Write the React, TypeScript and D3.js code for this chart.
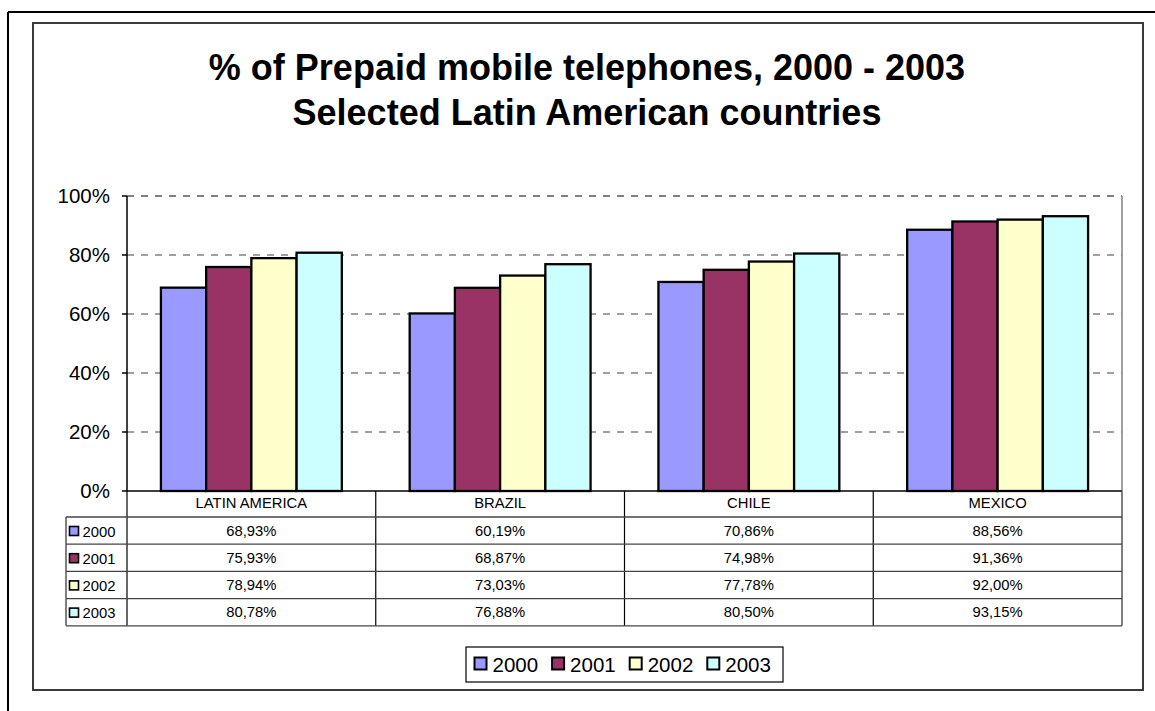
import React from "react";
import * as d3 from "d3";

const categories = ["LATIN AMERICA", "BRAZIL", "CHILE", "MEXICO"];
const years = ["2000", "2001", "2002", "2003"];
const v2000 = [68.93, 60.19, 70.86, 88.56];
const v2001 = [75.93, 68.87, 74.98, 91.36];
const v2002 = [78.94, 73.03, 77.78, 92.0];
const v2003 = [80.78, 76.88, 80.5, 93.15];
const yTicks = [0, 20, 40, 60, 80, 100];
const colors = ["#9999FF", "#993366", "#FFFFCC", "#CCFFFF"];
const titleLines = ["% of Prepaid mobile telephones, 2000 - 2003", "Selected Latin American countries"];

const series = [v2000, v2001, v2002, v2003];

const FONT = "'Liberation Sans', Arial, Helvetica, sans-serif";

const locale = d3.formatLocale({ decimal: ",", thousands: ".", grouping: [3], currency: ["", ""] });
const fmtVal = locale.format(".2f");

export default function App() {
  const W = 1155;
  const H = 711;
  const plotL = 127;
  const plotR = 1122;
  const plotT = 196;
  const plotB = 491;
  const tableL = 66;
  const headerB = 517;
  const rowH = 27.2;

  const x0 = d3.scaleBand<string>().domain(categories).range([plotL, plotR]).paddingInner(0).paddingOuter(0);
  const x1 = d3.scaleBand<string>().domain(years).range([0, x0.bandwidth()]).paddingInner(0).paddingOuter(0.75);
  const y = d3.scaleLinear().domain([0, 100]).range([plotB, plotT]);

  const legendX = 466;
  const legendY = 647;
  const legendStep = 77.6;

  return (
    <svg width={W} height={H} style={{ position: "absolute", left: 0, top: 0 }} fontFamily={FONT}>
      <rect x={0} y={0} width={W} height={H} fill="#fff" />
      {/* outer frame: top & left */}
      <line x1={8} y1={12} x2={W} y2={12} stroke="#000" strokeWidth={2} />
      <line x1={8} y1={12} x2={8} y2={H} stroke="#000" strokeWidth={2} />
      {/* inner chart border */}
      <rect x={33} y={23} width={1110} height={667} fill="#fff" stroke="#3a3a3a" strokeWidth={2} />

      {/* title */}
      {titleLines.map((t, i) => (
        <text key={i} x={587} y={80 + i * 45} textAnchor="middle" fontSize={36} fontWeight="bold" fill="#000">
          {t}
        </text>
      ))}

      {/* gridlines */}
      {yTicks.filter((t) => t > 0).map((t) => (
        <line key={t} x1={plotL} x2={plotR} y1={y(t)} y2={y(t)} stroke={t === 100 ? "#555" : "#808080"} strokeWidth={1.5} strokeDasharray="7,7" />
      ))}
      {/* plot right border */}
      <line x1={plotR} x2={plotR} y1={plotT} y2={plotB} stroke="#808080" strokeWidth={1.5} />

      {/* bars */}
      {categories.map((c, ci) => (
        <g key={c}>
          {years.map((yr, si) => {
            const v = series[si][ci];
            const bx = (x0(c) as number) + (x1(yr) as number);
            return (
              <rect key={yr} x={bx} y={y(v)} width={x1.bandwidth()} height={plotB - y(v)} fill={colors[si]} stroke="#000" strokeWidth={2.3} />
            );
          })}
        </g>
      ))}

      {/* y axis */}
      <line x1={plotL} x2={plotL} y1={plotT} y2={plotB} stroke="#000" strokeWidth={1.5} />
      {yTicks.map((t) => (
        <g key={t}>
          <line x1={122} x2={plotL} y1={y(t)} y2={y(t)} stroke="#000" strokeWidth={1.5} />
          <text x={110} y={y(t) + 7.3} textAnchor="end" fontSize={20.5} fill="#000">
            {t}%
          </text>
        </g>
      ))}
      {/* x axis line */}
      <line x1={plotL} x2={plotR} y1={plotB} y2={plotB} stroke="#000" strokeWidth={1.5} />

      {/* data table */}
      {categories.map((c) => (
        <line key={"hv" + c} x1={x0(c) as number} x2={x0(c) as number} y1={plotB} y2={headerB + rowH * 4} stroke="#000" strokeWidth={1.2} />
      ))}
      <line x1={plotR} x2={plotR} y1={plotB} y2={headerB + rowH * 4} stroke="#555" strokeWidth={1.5} />
      <line x1={tableL} x2={tableL} y1={headerB} y2={headerB + rowH * 4} stroke="#555" strokeWidth={1.5} />
      {[0, 1, 2, 3, 4].map((r) => (
        <line key={"hr" + r} x1={tableL} x2={plotR} y1={headerB + r * rowH} y2={headerB + r * rowH} stroke="#444" strokeWidth={1.3} />
      ))}
      {categories.map((c) => (
        <text key={"ht" + c} x={(x0(c) as number) + x0.bandwidth() / 2} y={508} textAnchor="middle" fontSize={14.8} fill="#000">
          {c}
        </text>
      ))}
      {years.map((yr, si) => (
        <g key={"row" + yr}>
          <rect x={69.5} y={headerB + si * rowH + 9.5} width={9} height={9} fill={colors[si]} stroke="#000" strokeWidth={1.6} />
          <text x={82.5} y={headerB + si * rowH + 19.5} fontSize={14.8} fill="#000">
            {yr}
          </text>
          {categories.map((c, ci) => (
            <text key={c} x={(x0(c) as number) + x0.bandwidth() / 2} y={headerB + si * rowH + 18.5} textAnchor="middle" fontSize={14.8} fill="#000">
              {fmtVal(series[si][ci])}%
            </text>
          ))}
        </g>
      ))}

      {/* legend */}
      <rect x={legendX} y={legendY} width={317} height={35} fill="#fff" stroke="#000" strokeWidth={1.2} />
      {years.map((yr, si) => (
        <g key={"lg" + yr}>
          <rect x={legendX + 8.5 + si * legendStep} y={legendY + 10.5} width={12} height={12} fill={colors[si]} stroke="#000" strokeWidth={2} />
          <text x={legendX + 26.5 + si * legendStep} y={legendY + 25} fontSize={20.5} fill="#000">
            {yr}
          </text>
        </g>
      ))}
    </svg>
  );
}
